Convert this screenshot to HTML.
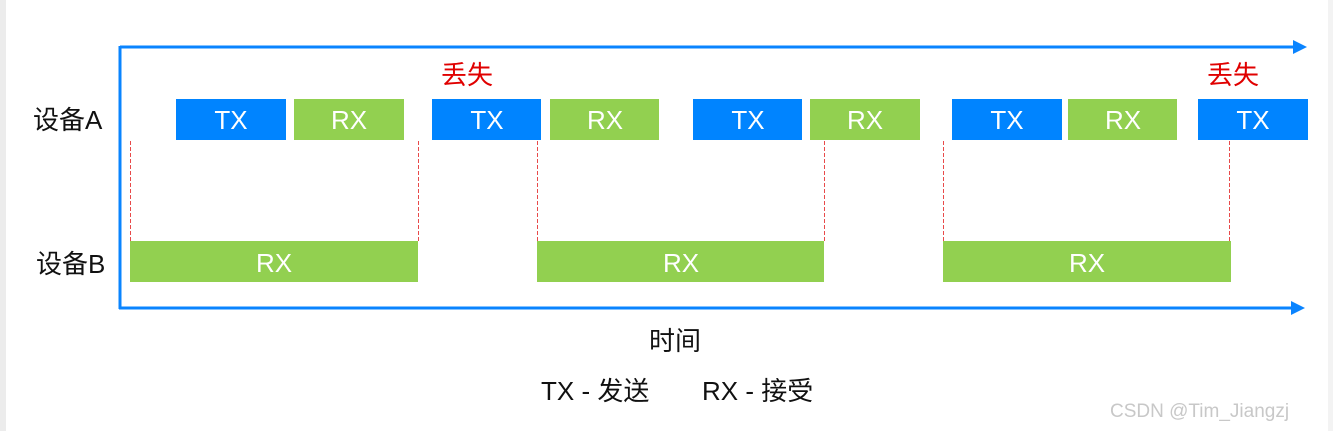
<!DOCTYPE html>
<html><head><meta charset="utf-8"><style>
html,body{margin:0;padding:0;background:#fff;width:1333px;height:431px;overflow:hidden}
svg{display:block}
text{font-family:"Liberation Sans","Noto Sans CJK SC",sans-serif}
</style></head><body>
<svg width="1333" height="431" viewBox="0 0 1333 431" xmlns="http://www.w3.org/2000/svg">
<rect x="0" y="0" width="1333" height="431" fill="#fff"/>
<rect x="0" y="0" width="6" height="431" fill="#ececec"/>
<rect x="1328" y="0" width="5" height="431" fill="#f3f3f3"/>
<!-- axes -->
<g stroke="#0a84ff" stroke-width="3" fill="none">
<line x1="120" y1="47" x2="1295" y2="47"/>
<line x1="120" y1="46" x2="120" y2="309"/>
<line x1="119" y1="308" x2="1293" y2="308"/>
</g>
<polygon points="1293,40 1307,47 1293,54" fill="#0a84ff"/>
<polygon points="1291,301 1305,308 1291,315" fill="#0a84ff"/>
<!-- dashed -->
<g stroke="#e84a4a" stroke-width="1" stroke-dasharray="4,2">
<line x1="130.5" y1="141" x2="130.5" y2="241"/>
<line x1="418.5" y1="141" x2="418.5" y2="241"/>
<line x1="537.5" y1="141" x2="537.5" y2="241"/>
<line x1="824.5" y1="141" x2="824.5" y2="241"/>
<line x1="943.5" y1="141" x2="943.5" y2="241"/>
<line x1="1229.5" y1="141" x2="1229.5" y2="241"/>
</g>
<!-- row A -->
<g>
<rect x="176" y="99" width="110" height="41" fill="#0084ff"/>
<rect x="294" y="99" width="110" height="41" fill="#92d050"/>
<rect x="432" y="99" width="109" height="41" fill="#0084ff"/>
<rect x="550" y="99" width="109" height="41" fill="#92d050"/>
<rect x="693" y="99" width="109" height="41" fill="#0084ff"/>
<rect x="810" y="99" width="110" height="41" fill="#92d050"/>
<rect x="952" y="99" width="110" height="41" fill="#0084ff"/>
<rect x="1068" y="99" width="109" height="41" fill="#92d050"/>
<rect x="1198" y="99" width="110" height="41" fill="#0084ff"/>
<rect x="130" y="241" width="288" height="41" fill="#92d050"/>
<rect x="537" y="241" width="287" height="41" fill="#92d050"/>
<rect x="943" y="241" width="288" height="41" fill="#92d050"/>
</g>
<g fill="#fff" font-size="26" text-anchor="middle">
<text x="231" y="129">TX</text>
<text x="349" y="129">RX</text>
<text x="487" y="129">TX</text>
<text x="605" y="129">RX</text>
<text x="748" y="129">TX</text>
<text x="865" y="129">RX</text>
<text x="1007" y="129">TX</text>
<text x="1123" y="129">RX</text>
<text x="1253" y="129">TX</text>
<text x="274" y="272">RX</text>
<text x="681" y="272">RX</text>
<text x="1087" y="272">RX</text>
</g>
<g fill="#111" font-size="26">
<text x="33" y="129">设备A</text>
<text x="36" y="273">设备B</text>
<text x="649" y="350">时间</text>
<text x="541" y="400">TX - 发送</text>
<text x="702" y="400">RX - 接受</text>
</g>
<g fill="#e00000" font-size="26">
<text x="441" y="84">丢失</text>
<text x="1207" y="84">丢失</text>
</g>
<text x="1110" y="417" font-size="19" fill="#c8c8c8">CSDN @Tim_Jiangzj</text>
</svg>
</body></html>
